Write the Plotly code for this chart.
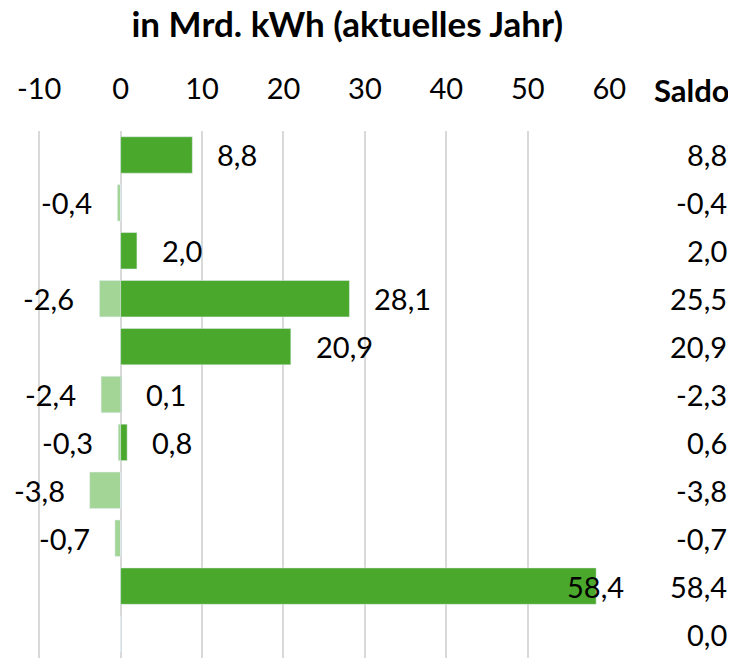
import plotly.graph_objects as go

rows = list(range(11))
positive = [8.8, 0, 2.0, 28.1, 20.9, 0.1, 0.8, 0, 0, 58.4, 0]
negative = [0, -0.4, 0, -2.6, 0, -2.4, -0.3, -3.8, -0.7, 0, 0]
saldo = [8.8, -0.4, 2.0, 25.5, 20.9, -2.3, 0.6, -3.8, -0.7, 58.4, 0.0]
tick_vals = [-10, 0, 10, 20, 30, 40, 50, 60]
tick_text = ["-10", "0", "10", "20", "30", "40", "50", "60"]

DARK = "#4AA82C"
LIGHT = "#A3D596"
FONT = "Lato"
XMIN, XMAX = -10.15, 60.1
LBL = 29

W, H = 728, 650  # page body has an 8px margin


def fmt(v):
    return f"{v:.1f}".replace(".", ",")


fig = go.Figure()
fig.add_trace(go.Bar(y=rows, x=negative, orientation="h", marker=dict(color=LIGHT),
                     width=0.76, hoverinfo="skip"))
fig.add_trace(go.Bar(y=rows, x=positive, orientation="h", marker=dict(color=DARK),
                     width=0.76, hoverinfo="skip"))

ann = []
for r, v in zip(rows, positive):
    if v != 0:
        overflow = v > 55
        ann.append(dict(x=v, y=r, xref="x", yref="y", text=fmt(v), showarrow=False,
                        xanchor="left", yanchor="middle", xshift=-31 if overflow else 23,
                        font=dict(family=FONT, size=LBL, color="black")))
for r, v in zip(rows, negative):
    if v != 0:
        ann.append(dict(x=v, y=r, xref="x", yref="y", text=fmt(v), showarrow=False,
                        xanchor="right", yanchor="middle", xshift=-23,
                        font=dict(family=FONT, size=LBL, color="black")))
for r, v in zip(rows, saldo):
    ann.append(dict(x=1.208, y=r, xref="paper", yref="y", text=fmt(v), showarrow=False,
                    xanchor="right", yanchor="middle",
                    font=dict(family=FONT, size=LBL, color="black")))
ann.append(dict(x=1.2133, y=1.0778, xref="paper", yref="paper", text="<b>Saldo</b>",
                showarrow=False, xanchor="right", yanchor="middle",
                font=dict(family=FONT, size=31, color="black")))

fig.update_layout(
    width=W, height=H,
    margin=dict(l=30, r=126, t=123, b=0, autoexpand=False),
    paper_bgcolor="white", plot_bgcolor="white",
    barmode="overlay",
    showlegend=False,
    title=dict(text="<b>in Mrd. kWh (aktuelles Jahr)</b>", x=0.466, xanchor="center",
               y=1 - 17 / H, yanchor="middle",
               font=dict(family=FONT, size=35, color="black")),
    annotations=ann,
    xaxis=dict(range=[XMIN, XMAX], side="top", tickvals=tick_vals, ticktext=tick_text,
               showgrid=True, gridcolor="#D9D9D9", gridwidth=2, zeroline=False,
               showline=False, ticks="", ticklabelstandoff=25, automargin=False,
               tickfont=dict(family=FONT, size=29, color="black")),
    yaxis=dict(range=[10.5, -0.5], showticklabels=False, showgrid=False,
               zeroline=False, showline=False, ticks="", automargin=False),
)

fig.write_html("out.html")
